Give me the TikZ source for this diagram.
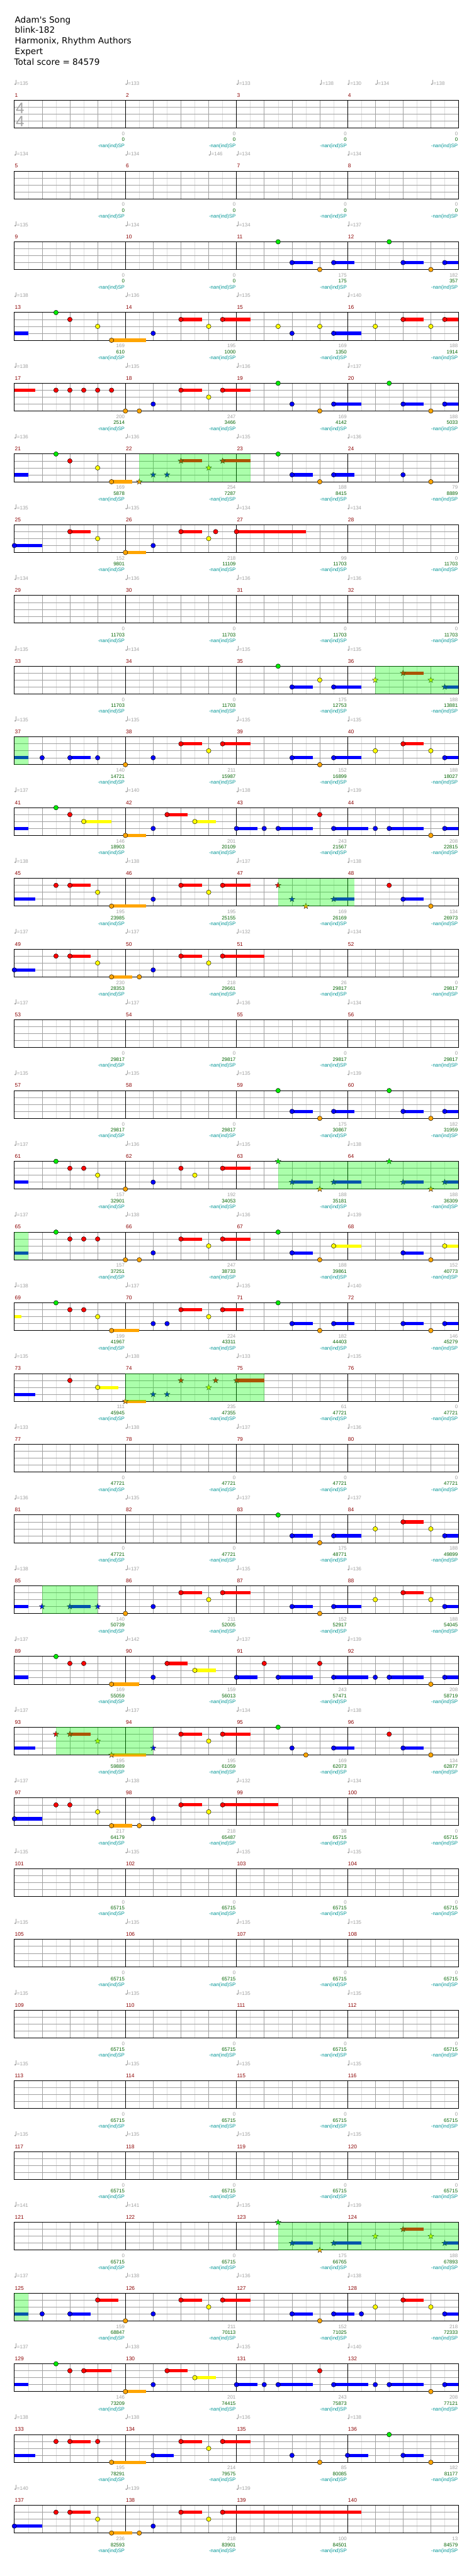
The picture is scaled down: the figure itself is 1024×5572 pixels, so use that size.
\documentclass[tikz,border=0pt]{standalone}
\usepackage{fontspec}
\setmainfont{DejaVu Sans}
\newfontfamily\smf{Liberation Sans}
\usetikzlibrary{shapes.geometric}
\definecolor{c0}{RGB}{0,235,0}
\definecolor{c1}{RGB}{255,0,0}
\definecolor{c2}{RGB}{255,255,0}
\definecolor{c3}{RGB}{0,0,255}
\definecolor{c4}{RGB}{255,165,0}
\definecolor{spc}{RGB}{0,255,0}
\definecolor{lgr}{RGB}{222,222,222}
\definecolor{mgr}{RGB}{160,160,160}
\definecolor{tgr}{RGB}{160,160,160}
\definecolor{mred}{RGB}{139,0,0}
\definecolor{sgreen}{RGB}{0,100,0}
\definecolor{steal}{RGB}{0,150,150}
\definecolor{tsig}{RGB}{165,165,165}
\newcounter{nn}
\tikzset{
 lgrid/.style={draw=lgr,line width=0.8pt},
 mgrid/.style={draw=mgr,line width=0.9pt},
 mline/.style={draw=black,line width=0.9pt},
 border/.style={draw=black,line width=1.3pt},
 smalltxt/.style={font=\smf\fontsize{10.8}{12}\selectfont,inner sep=0pt},
 tp/.style={smalltxt,text=tgr,anchor=base west},
 mnum/.style={smalltxt,text=mred,anchor=base west,font=\smf\fontsize{11.5}{12}\selectfont},
 sgx/.style={smalltxt,text=tgr,anchor=base east},
 sgn/.style={smalltxt,text=sgreen,anchor=base east},
 stl/.style={smalltxt,text=steal,anchor=base east},
 titletxt/.style={font=\fontsize{18.5}{22}\selectfont,inner sep=0pt,anchor=base west},
 notehead/.style={draw=black,line width=0.6pt},
 starnote/.style={star,star points=5,star point ratio=2.4,minimum size=13pt,inner sep=0pt,draw=black!85,line width=0.5pt},
 spzone/.style={fill=spc,opacity=0.33},
 tsnum/.style={font=\smf\fontsize{33}{33}\selectfont,text=tsig,anchor=base west,inner sep=0pt}
}
\newcommand\rowstart[2]{%
 \pgfmathsetmacro\rT{217+153*#1}%
 \pgfmathsetmacro\rB{\rT+60}%
 \foreach \k in {1,3,...,31}{\draw[lgrid] ({31+30*\k},\rT) -- ({31+30*\k},\rB);}%
 \foreach \k in {2,4,6,10,12,14,18,20,22,26,28,30}{\draw[mgrid] ({31+30*\k},\rT) -- ({31+30*\k},\rB);}%
 \foreach \j in {15,30,45}{\draw[mgrid] (31,{\rT+\j}) -- (991,{\rT+\j});}%
 \foreach \k in {8,16,24}{\draw[mline] ({31+30*\k},\rT) -- ({31+30*\k},\rB);}%
 \draw[border] (31,\rT) rectangle (991,\rB);%
 \foreach \c in {0,1,2,3}{\pgfmathtruncatemacro\mm{#2+\c}\node[mnum] (m\mm) at ({32+240*\c},{\rT-7}) {\mm};}%
}
\newcommand\tpo[2]{%
 \pgfmathsetmacro\xt{31+15*#1}%
 \fill[tgr] ({\xt+1.9},{\rT-34.8}) ellipse (2pt and 1.6pt);%
 \draw[tgr,line width=0.7pt] ({\xt+3.6},{\rT-35}) -- ({\xt+3.6},{\rT-44});%
 \stepcounter{nn}\node[tp] (t\thenn) at ({\xt+5.5},{\rT-33}) {=#2};}
\newcommand\tpf[4]{\tpo{0}{#1}\tpo{16}{#2}\tpo{32}{#3}\tpo{48}{#4}}
\newcommand\scone[3]{%
 \pgfmathsetmacro\xe{31+240*#1-1.5}%
 \stepcounter{nn}\node[sgx] (a\thenn) at (\xe,{\rT+76}) {#2};%
 \node[sgn] (b\thenn) at (\xe,{\rT+89}) {#3};%
 \node[stl] (c\thenn) at (\xe,{\rT+101.5}) {-nan(ind)SP};}
\newcommand\scr[8]{\scone{1}{#1}{#2}\scone{2}{#3}{#4}\scone{3}{#5}{#6}\scone{4}{#7}{#8}}
\newcommand\nN[2]{\fill[c#1,notehead] ({31+15*#2},{\rT+15*#1}) circle (5pt);}
\newcommand\nB[3]{\fill[c#1] ({31+15*#2},{\rT+15*#1-3.5}) rectangle ({31+15*#3},{\rT+15*#1+3.5});}
\newcommand\nH[3]{\nB{#1}{#2}{#3}\nN{#1}{#2}}
\newcommand\nC[2]{\nB{#1}{0}{#2}}
\newcommand\nX[2]{\stepcounter{nn}\node[starnote,fill=c#1] (s\thenn) at ({31+15*#2},{\rT+15*#1}) {};}
\newcommand\nXH[3]{\nB{#1}{#2}{#3}\nX{#1}{#2}}
\newcommand\nSP[3]{\pgfmathsetmacro\rT{217+153*#1}\fill[spzone] ({31+15*#2},\rT) rectangle ({31+15*#3},{\rT+60});}
\begin{document}
\begin{tikzpicture}[x=1pt,y=-1pt]
\useasboundingbox (0,0) rectangle (1024,5572);
\fill[white] (0,0) rectangle (1024,5572);
\node[titletxt] (l1) at (32,49) {Adam\textquotesingle s Song};
\node[titletxt] (l2) at (32,72) {blink-182};
\node[titletxt] (l3) at (32,95) {Harmonix, Rhythm Authors};
\node[titletxt] (l4) at (32,118) {Expert};
\node[titletxt] (l5) at (30.5,141) {Total score = 84579};
% row 0
\rowstart{0}{1}
\node[tsnum] (ts1) at (34,245) {4};
\node[tsnum] (ts2) at (34,274) {4};
\tpo{0}{135}\tpo{16}{133}\tpo{32}{133}\tpo{44}{138}\tpo{48}{130}\tpo{52}{134}\tpo{60}{138}
\scr{0}{0}{0}{0}{0}{0}{0}{0}
% row 1
\rowstart{1}{5}
\tpo{0}{134}\tpo{16}{134}\tpo{28}{146}\tpo{32}{134}\tpo{48}{134}
\scr{0}{0}{0}{0}{0}{0}{0}{0}
% row 2
\rowstart{2}{9}\tpf{135}{134}{134}{137}
\scr{0}{0}{0}{0}{175}{175}{182}{357}
\nN{0}{38}\nH{3}{40}{43}\nN{4}{44}\nH{3}{46}{49}\nN{0}{54}\nH{3}{56}{59}\nN{4}{60}\nH{3}{62}{64}
% row 3
\rowstart{3}{13}\tpf{138}{136}{135}{140}
\scr{169}{610}{195}{1000}{169}{1350}{188}{1914}
\nC{3}{2}\nN{0}{6}\nN{1}{8}\nN{2}{12}\nH{4}{14}{19}\nN{3}{20}\nH{1}{24}{27}\nN{2}{28}\nH{1}{30}{34}\nN{2}{38}\nN{3}{40}\nN{2}{44}\nH{3}{46}{50}\nN{2}{52}\nH{1}{56}{59}\nN{2}{60}\nH{1}{62}{64}
% row 4
\rowstart{4}{17}\tpf{138}{135}{136}{137}
\scr{200}{2514}{247}{3466}{169}{4142}{188}{5033}
\nC{1}{3}\nN{1}{6}\nN{1}{8}\nN{1}{10}\nN{1}{12}\nN{1}{14}\nN{4}{16}\nN{4}{18}\nN{3}{20}\nH{1}{24}{27}\nN{2}{28}\nH{1}{30}{34}\nN{0}{38}\nN{3}{40}\nN{4}{44}\nH{3}{46}{50}\nN{0}{54}\nH{3}{56}{59}\nN{4}{60}\nH{3}{62}{64}
% row 5
\rowstart{5}{21}\tpf{136}{136}{135}{136}
\scr{169}{5878}{254}{7287}{188}{8415}{79}{8889}
\nC{3}{2}\nN{0}{6}\nN{1}{8}\nN{2}{12}\nH{4}{14}{17}\nX{4}{18}\nX{3}{20}\nX{3}{22}\nXH{1}{24}{27}\nX{2}{28}\nXH{1}{30}{34}\nN{0}{38}\nH{3}{40}{43}\nN{4}{44}\nH{3}{46}{49}\nN{3}{56}\nN{4}{60}
% row 6
\rowstart{6}{25}\tpf{135}{135}{134}{134}
\scr{152}{9801}{218}{11109}{99}{11703}{0}{11703}
\nH{3}{0}{4}\nH{1}{8}{11}\nN{2}{12}\nH{4}{16}{19}\nN{3}{20}\nH{1}{24}{27}\nN{2}{28}\nN{1}{29}\nH{1}{32}{42}
% row 7
\rowstart{7}{29}\tpf{134}{136}{136}{136}
\scr{0}{11703}{0}{11703}{0}{11703}{0}{11703}
% row 8
\rowstart{8}{33}\tpf{135}{134}{135}{135}
\scr{0}{11703}{0}{11703}{175}{12753}{188}{13881}
\nN{0}{38}\nH{3}{40}{43}\nN{2}{44}\nH{3}{46}{50}\nX{2}{52}\nXH{1}{56}{59}\nX{2}{60}\nXH{3}{62}{64}
% row 9
\rowstart{9}{37}\tpf{135}{135}{135}{135}
\scr{140}{14721}{211}{15987}{152}{16899}{188}{18027}
\nC{3}{2}\nN{3}{4}\nH{3}{8}{11}\nN{3}{12}\nN{4}{16}\nN{3}{20}\nH{1}{24}{27}\nN{2}{28}\nH{1}{30}{34}\nH{3}{40}{43}\nN{4}{44}\nH{3}{46}{50}\nN{2}{52}\nH{1}{56}{59}\nN{2}{60}\nH{3}{62}{64}
% row 10
\rowstart{10}{41}\tpf{137}{140}{138}{139}
\scr{146}{18903}{201}{20109}{243}{21567}{208}{22815}
\nC{3}{2}\nN{0}{6}\nN{1}{8}\nH{2}{10}{14}\nH{4}{16}{19}\nN{3}{20}\nH{1}{22}{25}\nH{2}{26}{29}\nH{3}{32}{35}\nN{3}{36}\nH{3}{38}{43}\nN{1}{44}\nH{3}{46}{51}\nN{3}{52}\nH{3}{54}{59}\nN{4}{60}\nH{3}{62}{64}
% row 11
\rowstart{11}{45}\tpf{138}{138}{137}{138}
\scr{195}{23985}{195}{25155}{169}{26169}{134}{26973}
\nC{3}{3}\nN{1}{6}\nH{1}{8}{11}\nN{2}{12}\nH{4}{14}{19}\nN{3}{20}\nH{1}{24}{27}\nN{2}{28}\nH{1}{30}{34}\nX{1}{38}\nX{3}{40}\nX{4}{42}\nXH{3}{46}{49}\nN{1}{54}\nH{3}{56}{59}\nN{4}{60}
% row 12
\rowstart{12}{49}\tpf{137}{137}{132}{134}
\scr{230}{28353}{218}{29661}{26}{29817}{0}{29817}
\nH{3}{0}{3}\nN{1}{6}\nH{1}{8}{11}\nN{2}{12}\nH{4}{14}{17}\nN{4}{18}\nN{3}{20}\nH{1}{24}{27}\nN{2}{28}\nH{1}{30}{36}
% row 13
\rowstart{13}{53}\tpf{137}{137}{136}{134}
\scr{0}{29817}{0}{29817}{0}{29817}{0}{29817}
% row 14
\rowstart{14}{57}\tpf{135}{135}{135}{139}
\scr{0}{29817}{0}{29817}{175}{30867}{182}{31959}
\nN{0}{38}\nH{3}{40}{43}\nN{4}{44}\nH{3}{46}{49}\nN{0}{54}\nH{3}{56}{59}\nN{4}{60}\nH{3}{62}{64}
% row 15
\rowstart{15}{61}\tpf{137}{136}{135}{138}
\scr{157}{32901}{192}{34053}{188}{35181}{188}{36309}
\nC{3}{2}\nN{0}{6}\nN{1}{8}\nN{1}{10}\nN{2}{12}\nN{4}{16}\nN{3}{20}\nN{1}{24}\nN{2}{26}\nH{1}{30}{34}\nX{0}{38}\nXH{3}{40}{43}\nX{4}{44}\nXH{3}{46}{50}\nX{0}{54}\nXH{3}{56}{59}\nX{4}{60}\nXH{3}{62}{64}
% row 16
\rowstart{16}{65}\tpf{137}{138}{136}{139}
\scr{157}{37251}{247}{38733}{188}{39861}{152}{40773}
\nC{3}{2}\nN{0}{6}\nN{1}{8}\nN{1}{10}\nN{1}{12}\nN{4}{16}\nN{4}{18}\nN{3}{20}\nH{1}{24}{27}\nN{2}{28}\nH{1}{30}{34}\nN{0}{38}\nH{3}{40}{43}\nN{4}{44}\nH{2}{46}{50}\nH{3}{56}{59}\nN{4}{60}\nH{2}{62}{64}
% row 17
\rowstart{17}{69}\tpf{138}{137}{135}{140}
\scr{199}{41967}{224}{43311}{182}{44403}{146}{45279}
\nC{2}{1}\nN{0}{6}\nN{1}{8}\nN{1}{10}\nN{2}{12}\nH{4}{14}{18}\nN{3}{20}\nN{3}{22}\nH{1}{24}{27}\nN{2}{28}\nH{1}{30}{33}\nN{0}{38}\nH{3}{40}{43}\nN{4}{44}\nH{3}{46}{49}\nH{3}{56}{59}\nN{4}{60}\nH{3}{62}{64}
% row 18
\rowstart{18}{73}\tpf{135}{138}{133}{135}
\scr{111}{45945}{235}{47355}{61}{47721}{0}{47721}
\nC{3}{3}\nN{1}{8}\nH{2}{12}{15}\nXH{4}{16}{19}\nX{3}{20}\nX{3}{22}\nX{1}{24}\nX{2}{28}\nX{1}{29}\nXH{1}{32}{36}
% row 19
\rowstart{19}{77}\tpf{133}{138}{137}{136}
\scr{0}{47721}{0}{47721}{0}{47721}{0}{47721}
% row 20
\rowstart{20}{81}\tpf{136}{135}{137}{137}
\scr{0}{47721}{0}{47721}{175}{48771}{188}{49899}
\nN{0}{38}\nH{3}{40}{43}\nN{4}{44}\nH{3}{46}{50}\nN{2}{52}\nH{1}{56}{59}\nN{2}{60}\nH{3}{62}{64}
% row 21
\rowstart{21}{85}\tpf{138}{137}{135}{136}
\scr{140}{50739}{211}{52005}{152}{52917}{188}{54045}
\nC{3}{2}\nX{3}{4}\nXH{3}{8}{11}\nX{3}{12}\nN{4}{16}\nN{3}{20}\nH{1}{24}{27}\nN{2}{28}\nH{1}{30}{34}\nH{3}{40}{43}\nN{4}{44}\nH{3}{46}{50}\nN{2}{52}\nH{1}{56}{59}\nN{2}{60}\nH{3}{62}{64}
% row 22
\rowstart{22}{89}\tpf{137}{142}{137}{139}
\scr{169}{55059}{159}{56013}{243}{57471}{208}{58719}
\nC{3}{2}\nN{0}{6}\nN{1}{8}\nN{1}{10}\nH{4}{14}{18}\nN{3}{20}\nH{1}{22}{25}\nH{2}{26}{29}\nH{3}{32}{35}\nN{1}{36}\nH{3}{38}{43}\nN{1}{44}\nH{3}{46}{51}\nN{3}{52}\nH{3}{54}{59}\nN{4}{60}\nH{3}{62}{64}
% row 23
\rowstart{23}{93}\tpf{137}{137}{134}{138}
\scr{195}{59889}{195}{61059}{169}{62073}{134}{62877}
\nC{3}{3}\nX{1}{6}\nXH{1}{8}{11}\nX{2}{12}\nXH{4}{14}{19}\nX{3}{20}\nH{1}{24}{27}\nN{2}{28}\nH{1}{30}{34}\nN{0}{38}\nN{3}{40}\nN{4}{42}\nH{3}{46}{49}\nN{1}{54}\nH{3}{56}{59}\nN{4}{60}
% row 24
\rowstart{24}{97}\tpf{137}{138}{132}{134}
\scr{217}{64179}{218}{65487}{38}{65715}{0}{65715}
\nH{3}{0}{4}\nN{1}{6}\nN{1}{8}\nN{2}{12}\nH{4}{14}{17}\nN{4}{18}\nN{3}{20}\nH{1}{24}{27}\nN{2}{28}\nH{1}{30}{38}
% rows 25-29
\rowstart{25}{101}\tpf{135}{135}{135}{135}
\scr{0}{65715}{0}{65715}{0}{65715}{0}{65715}
\rowstart{26}{105}\tpf{135}{135}{135}{135}
\scr{0}{65715}{0}{65715}{0}{65715}{0}{65715}
\rowstart{27}{109}\tpf{135}{135}{135}{135}
\scr{0}{65715}{0}{65715}{0}{65715}{0}{65715}
\rowstart{28}{113}\tpf{135}{135}{135}{135}
\scr{0}{65715}{0}{65715}{0}{65715}{0}{65715}
\rowstart{29}{117}\tpf{135}{135}{135}{135}
\scr{0}{65715}{0}{65715}{0}{65715}{0}{65715}
% row 30
\rowstart{30}{121}\tpf{141}{141}{135}{139}
\scr{0}{65715}{0}{65715}{175}{66765}{188}{67893}
\nX{0}{38}\nXH{3}{40}{43}\nX{4}{44}\nXH{3}{46}{50}\nX{2}{52}\nXH{1}{56}{59}\nX{2}{60}\nXH{3}{62}{64}
% row 31
\rowstart{31}{125}\tpf{137}{138}{136}{138}
\scr{159}{68847}{211}{70113}{152}{71025}{218}{72333}
\nC{3}{2}\nN{3}{4}\nH{3}{8}{11}\nH{1}{12}{15}\nN{4}{16}\nN{3}{20}\nH{1}{24}{27}\nN{2}{28}\nH{1}{30}{34}\nH{3}{40}{43}\nN{4}{44}\nH{3}{46}{49}\nN{3}{50}\nN{2}{52}\nH{1}{56}{59}\nN{2}{60}\nH{3}{62}{64}
% row 32
\rowstart{32}{129}\tpf{137}{138}{135}{140}
\scr{146}{73209}{201}{74415}{243}{75873}{208}{77121}
\nC{3}{2}\nN{0}{6}\nN{1}{8}\nH{1}{10}{14}\nH{4}{16}{19}\nN{3}{20}\nH{1}{22}{25}\nH{2}{26}{29}\nH{3}{32}{35}\nN{3}{36}\nH{3}{38}{43}\nN{1}{44}\nH{3}{46}{51}\nN{3}{52}\nH{3}{54}{59}\nN{4}{60}\nH{3}{62}{64}
% row 33
\rowstart{33}{133}\tpf{138}{138}{136}{138}
\scr{195}{78291}{214}{79575}{85}{80085}{182}{81177}
\nC{3}{3}\nN{1}{6}\nH{1}{8}{11}\nN{1}{12}\nH{4}{14}{19}\nH{3}{20}{23}\nH{1}{24}{27}\nN{2}{28}\nH{1}{30}{34}\nN{3}{40}\nN{4}{44}\nH{3}{48}{51}\nN{0}{54}\nH{3}{56}{59}\nN{4}{60}
% row 34
\rowstart{34}{137}\tpo{0}{140}\tpo{16}{139}\tpo{32}{139}
\scr{236}{82593}{218}{83901}{100}{84501}{13}{84579}
\nH{3}{0}{4}\nN{1}{6}\nH{1}{8}{11}\nN{2}{12}\nH{4}{14}{17}\nN{4}{18}\nN{3}{20}\nH{1}{24}{27}\nN{2}{28}\nH{1}{30}{50}
% star power zones
\nSP{5}{18}{34}
\nSP{8}{52}{64}
\nSP{9}{0}{2}
\nSP{11}{38}{49}
\nSP{15}{38}{64}
\nSP{16}{0}{2}
\nSP{18}{16}{36}
\nSP{21}{4}{12}
\nSP{23}{6}{20}
\nSP{30}{38}{64}
\nSP{31}{0}{2}
\end{tikzpicture}
\end{document}
